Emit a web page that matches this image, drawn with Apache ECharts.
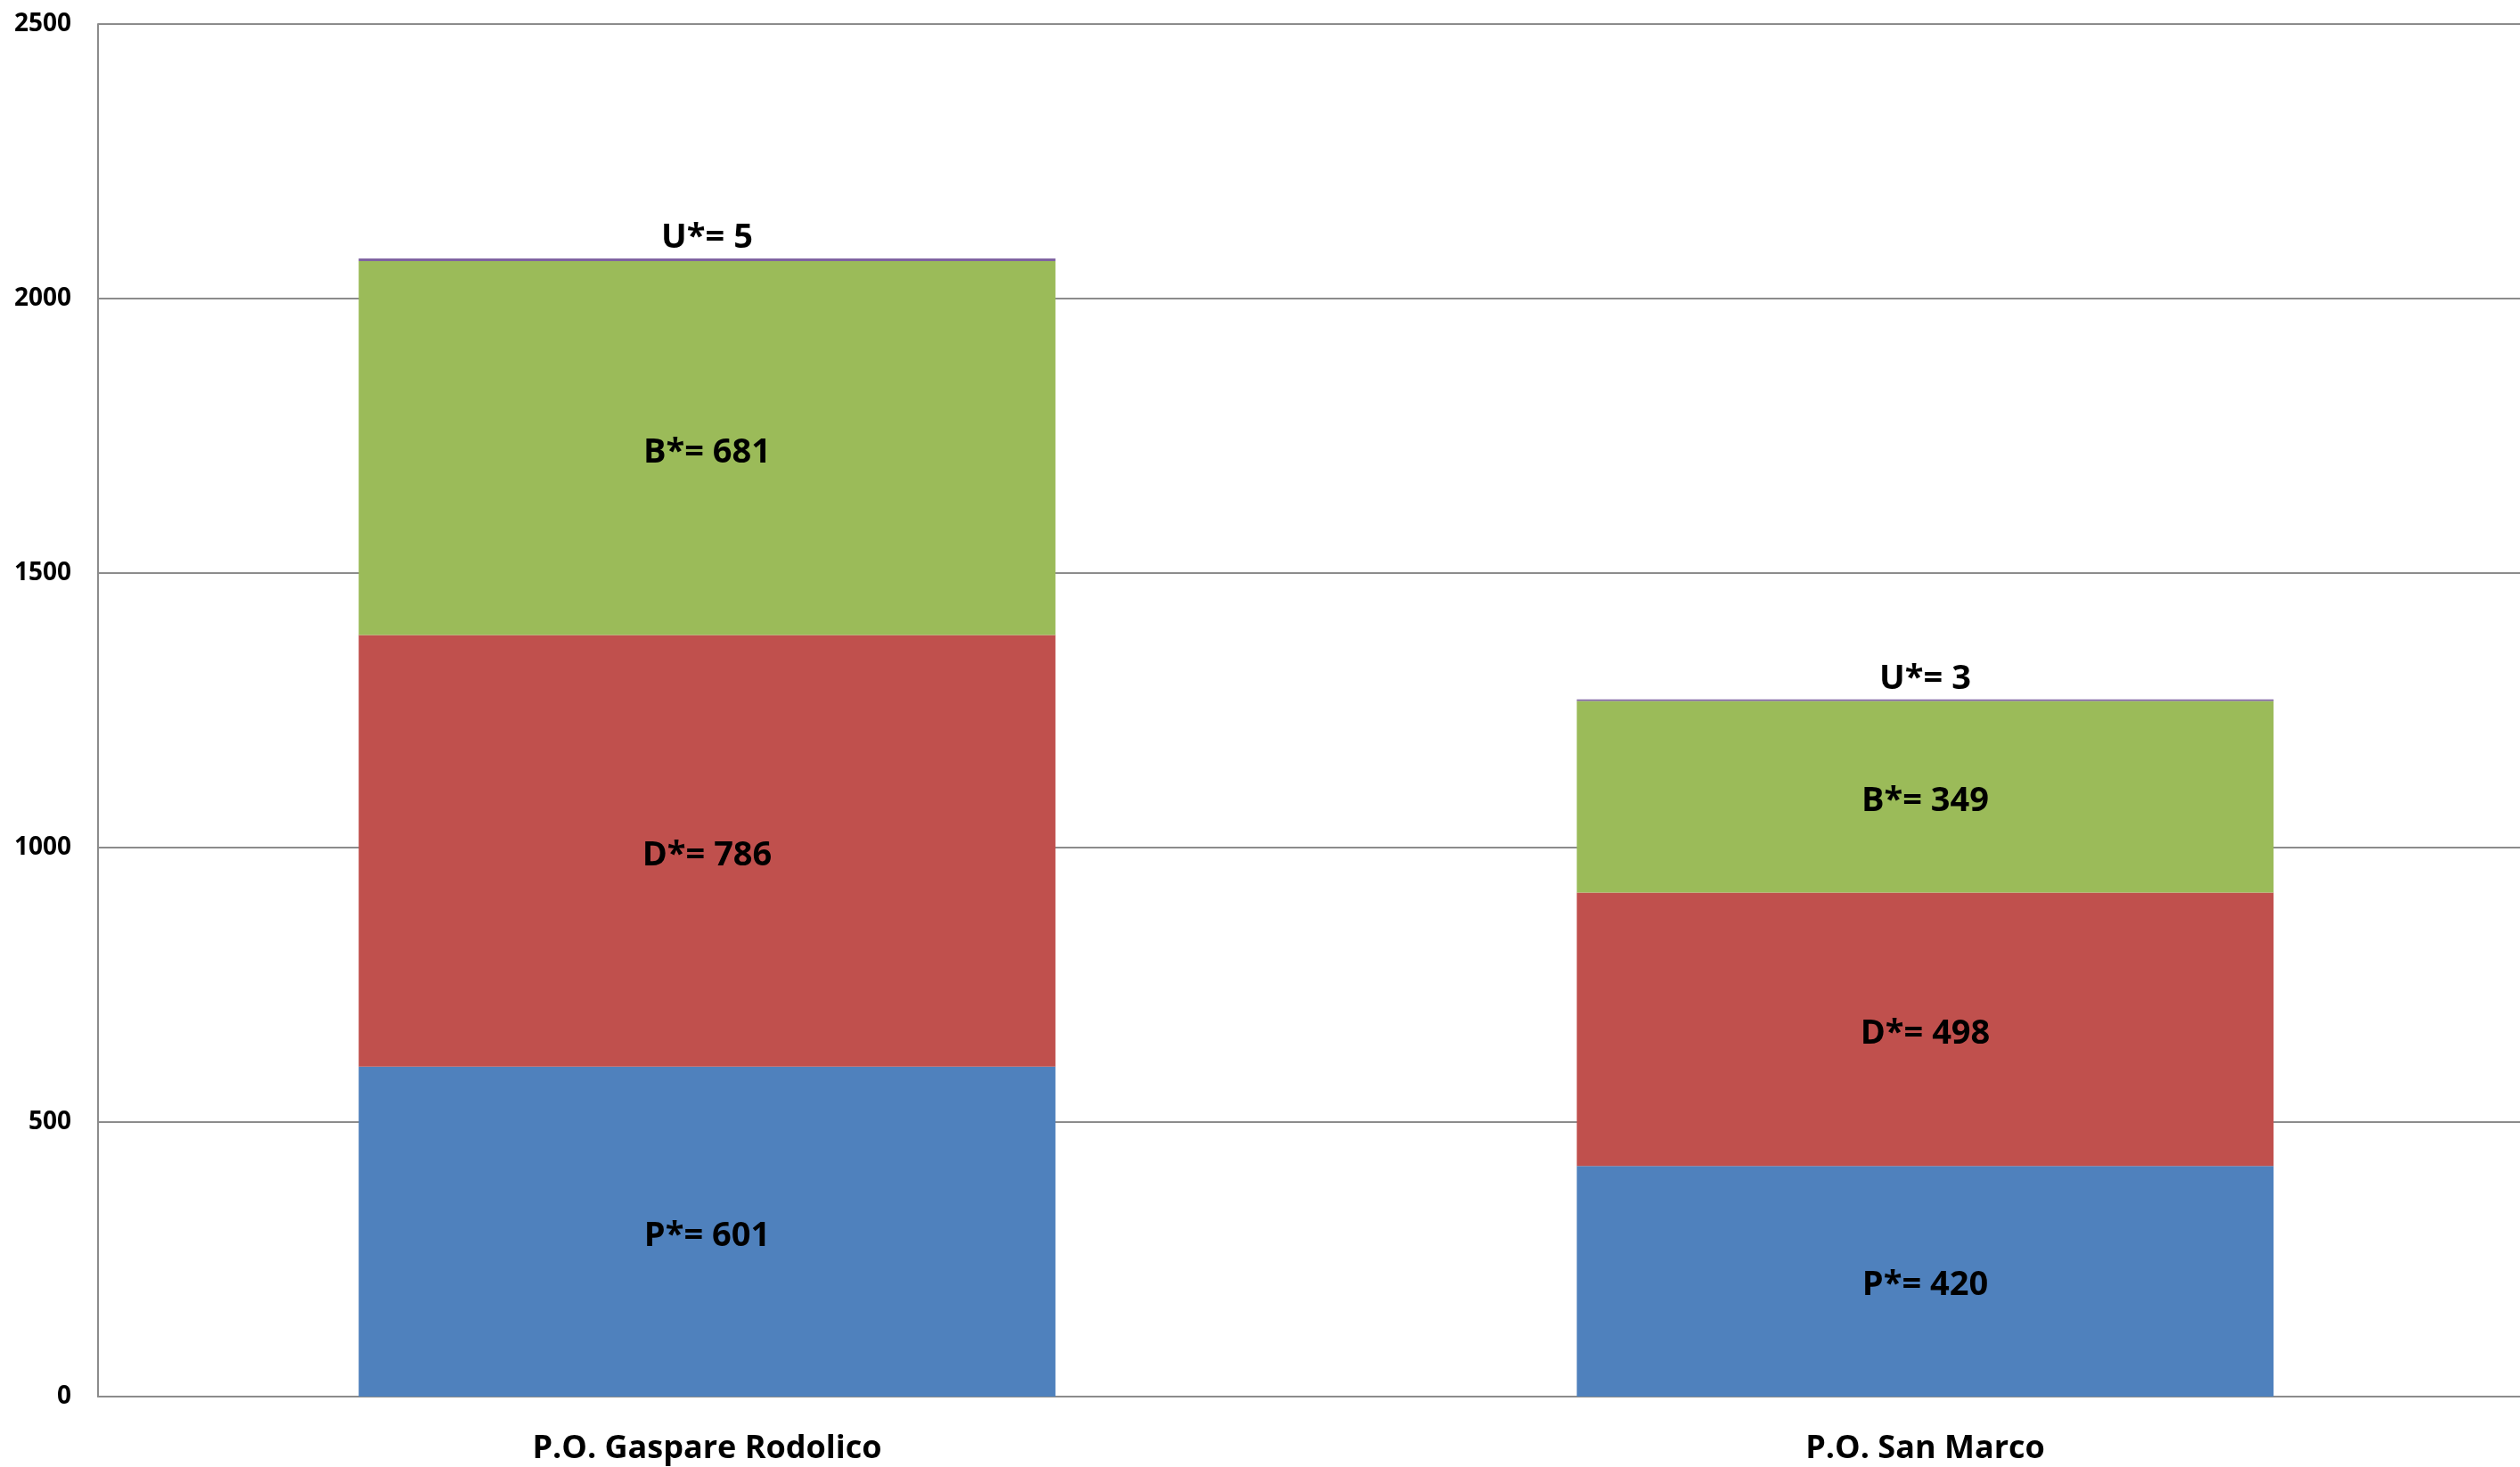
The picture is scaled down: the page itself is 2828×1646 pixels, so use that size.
<!DOCTYPE html>
<html>
<head>
<meta charset="utf-8">
<script src="https://cdn.jsdelivr.net/npm/echarts@6/dist/echarts.min.js"></script>
<style>html,body{margin:0;padding:0;background:#fff;overflow:hidden;width:2828px;height:1646px}#c{width:2844px;height:1646px}</style>
</head>
<body>
<div id="c"></div>
<script>
const categories = ['P.O. Gaspare Rodolico', 'P.O. San Marco'];
const seriesNames = ['P*', 'D*', 'B*', 'U*'];
const valuesP = [601, 420];
const valuesD = [786, 498];
const valuesB = [681, 349];
const valuesU = [5, 3];
const yTicks = [0, 500, 1000, 1500, 2000, 2500];

const colors = ['#4F81BD', '#C0504D', '#9BBB59', '#8064A2'];
const allValues = [valuesP, valuesD, valuesB, valuesU];
const font = '"Open Sans", "Noto Sans", sans-serif';

const chart = echarts.init(document.getElementById('c'));
const series = allValues.map((vals, i) => ({
  name: seriesNames[i],
  type: 'bar',
  stack: 'total',
  data: vals,
  barCategoryGap: '42.8%',
  itemStyle: { color: colors[i] },
  label: {
    show: true,
    position: i === 3 ? 'top' : 'inside',
    distance: 6,
    offset: i === 3 ? [0, 2] : [0, 5],
    formatter: p => seriesNames[i] + '= ' + p.value,
    color: '#000',
    fontFamily: font,
    fontWeight: 'bold',
    fontSize: 38
  }
}));

chart.setOption({
  animation: false,
  backgroundColor: '#fff',
  grid: { left: 110, right: 0, top: 27, bottom: 79, containLabel: false },
  xAxis: {
    type: 'category',
    data: categories,
    axisLine: { show: true, lineStyle: { color: '#8c8c8c', width: 2 } },
    axisTick: { show: false },
    axisLabel: { color: '#000', fontFamily: font, fontWeight: 'bold', fontSize: 36, margin: 41 }
  },
  yAxis: {
    type: 'value',
    min: yTicks[0],
    max: yTicks[yTicks.length - 1],
    interval: yTicks[1] - yTicks[0],
    axisLine: { show: true, lineStyle: { color: '#8c8c8c', width: 2 } },
    axisTick: { show: false },
    splitLine: { show: true, lineStyle: { color: '#8c8c8c', width: 2 } },
    axisLabel: { color: '#000', fontFamily: font, fontWeight: 'bold', fontSize: 28, margin: 30, formatter: v => String(v) }
  },
  series: series
});
</script>
</body>
</html>
